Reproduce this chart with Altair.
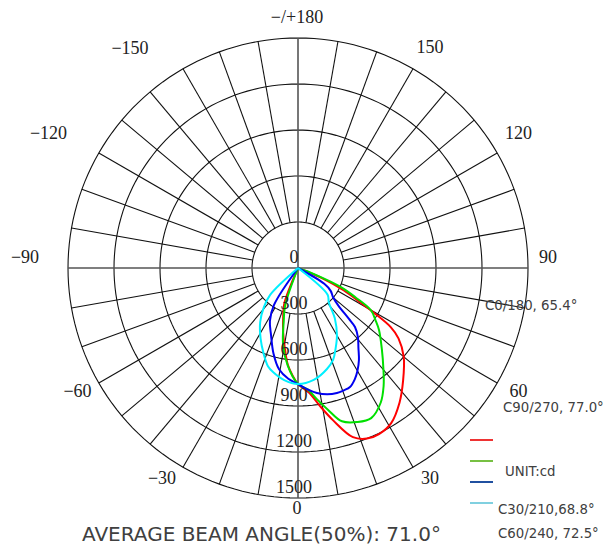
import altair as alt
import pandas as pd

# ---------------- data ----------------
series_names = ["C0/180", "C90/270", "C30/210", "C60/240"]
series_colors = ["#ff0000", "#00e000", "#0000f0", "#00f0ff"]

# angle in degrees (0 = straight down, + = C0/C90/... half plane, - = opposite half plane)
red_angles = [-25, -21, -17, -13, -10, -6, -3, 0, 5, 9, 13, 18, 22, 26, 31, 37, 43, 50, 55, 57.5, 59.5, 61, 64, 67, 70]
red_cd = [0, 250, 330, 430, 510, 635, 700, 757, 815, 910, 1020, 1160, 1200, 1205, 1180, 1100, 1005, 900, 800, 717, 574, 470, 333, 180, 0]

green_angles = [-23, -19, -15, -11, -6, 0, 4.7, 8, 12, 16, 21, 26, 31.6, 36, 40, 46, 52.6, 56, 60, 63, 66, 69, 71]
green_cd = [0, 255, 360, 510, 640, 757, 796, 860, 946, 1040, 1076, 1089, 1030, 950, 867, 760, 665, 610, 548, 420, 307, 120, 0]

blue_angles = [-36, -33, -28, -22, -16, -10.6, -5, 0, 4, 8.6, 13, 17.3, 20.5, 23.6, 27, 30, 33.5, 37, 41, 44, 45, 47, 50, 55, 59, 61]
blue_cd = [0, 287, 390, 470, 580, 672, 725, 757, 790, 824, 845, 854, 852, 847, 815, 775, 720, 655, 595, 535, 470, 360, 300, 260, 200, 0]

cyan_angles = [-49, -46, -41, -35, -28, -22, -17, -13.5, -7, 0, 8, 16, 21, 25, 30, 36, 42, 48, 51]
cyan_cd = [0, 254, 340, 430, 520, 600, 670, 698, 737, 757, 737, 685, 640, 580, 508, 410, 300, 260, 0]

ring_values = [300, 600, 900, 1200, 1500]
radial_label_values = [0, 300, 600, 900, 1200, 1500]
spoke_angles = [a for a in range(-170, 181, 10) if a % 90 != 0]
tick_angles = [0, 30, 60, 90, 120, 150, 180, -150, -120, -90, -60, -30]
tick_labels = ["0", "30", "60", "90", "120", "150", "\u2212/+180",
               "\u2212150", "\u2212120", "\u221290", "\u221260", "\u221230"]
legend_texts = ["C0/180, 65.4\u00b0", "C90/270, 77.0\u00b0", "UNIT:cd", "C30/210,68.8\u00b0", "C60/240, 72.5\u00b0"]
title_text = "AVERAGE BEAM ANGLE(50%): 71.0\u00b0"
legend_line_colors = ["#ee3333", "#77c043", "#2050a0", "#80d0e0"]

# ---------------- geometry / style ----------------
W, H = 597, 538
CX, CY = 290, 260          # centre of the polar grid in plot pixels
K = 230 / 1500             # pixels per cd
RMAX = 1500
xs = alt.Scale(domain=[-CX / K, (W - CX) / K], nice=False, zero=False)
ys = alt.Scale(domain=[-(H - CY) / K, CY / K], nice=False, zero=False)
SERIF = "Liberation Serif"
SANS = "DejaVu Sans"
TXT = "#404040"
# small pixel nudges of the angle labels (label placement style of the original)
label_nudge = {0: (-1, -9), 30: (7, -6), 60: (4, -1), 90: (0, -10), 120: (4, -9), 150: (7, -3),
               180: (-1, 0), -150: (-43, -2), -120: (-33, -9), -90: (-23, -10), -60: (-4, -1), -30: (-11, -6)}

rows = []
for name, angs, vals in [(series_names[0], red_angles, red_cd),
                         (series_names[1], green_angles, green_cd),
                         (series_names[2], blue_angles, blue_cd),
                         (series_names[3], cyan_angles, cyan_cd)]:
    for a, v in zip(angs, vals):
        rows.append({"series": name, "a": a, "r": v})
curves_df = pd.DataFrame(rows)

ring_rows = []
for v in ring_values:
    for a in range(0, 361, 2):
        ring_rows.append({"ring": v, "a": a, "r": v})
rings_df = pd.DataFrame(ring_rows)

polar_x = "datum.r*sin(datum.a*PI/180)"
polar_y = "-datum.r*cos(datum.a*PI/180)"

X = lambda f: alt.X(f, type="quantitative", scale=xs, axis=None)
Y = lambda f: alt.Y(f, type="quantitative", scale=ys, axis=None)

rings = alt.Chart(rings_df).transform_calculate(px=polar_x, py=polar_y).mark_line(
    color="#111111", strokeWidth=1.1
).encode(x=X("px"), y=Y("py"), detail="ring:N", order="a:Q")

spokes = alt.Chart(pd.DataFrame({"a": spoke_angles})).transform_calculate(
    x1="300*sin(datum.a*PI/180)", y1="-300*cos(datum.a*PI/180)",
    x2="1500*sin(datum.a*PI/180)", y2="-1500*cos(datum.a*PI/180)"
).mark_rule(color="#111111", strokeWidth=1.1).encode(
    x=X("x1"), y=Y("y1"), x2="x2:Q", y2="y2:Q"
)

axes = alt.Chart(pd.DataFrame({"a": [90, 0]})).transform_calculate(
    x1=f"-{RMAX}*sin(datum.a*PI/180)", y1=f"{RMAX}*cos(datum.a*PI/180)",
    x2=f"{RMAX}*sin(datum.a*PI/180)", y2=f"-{RMAX}*cos(datum.a*PI/180)"
).mark_rule(color="#555555", strokeWidth=1.6).encode(
    x=X("x1"), y=Y("y1"), x2="x2:Q", y2="y2:Q"
)

curves = alt.Chart(curves_df).transform_calculate(px=polar_x, py=polar_y).mark_line(
    strokeWidth=2, interpolate="catmull-rom"
).encode(
    x=X("px"), y=Y("py"),
    color=alt.Color("series:N", scale=alt.Scale(domain=series_names, range=series_colors), legend=None),
    order="a:Q",
)

radial_labels = alt.Chart(pd.DataFrame({"v": radial_label_values})).transform_calculate(
    px="0", py="-datum.v", t="toString(datum.v)"
).mark_text(font=SERIF, fontSize=18, color="#222222", align="center", baseline="alphabetic", dx=-4, dy=-5).encode(
    x=X("px"), y=Y("py"), text="t:N"
)

RL = 250 / K
tick_layers = []
for a, t in zip(tick_angles, tick_labels):
    ndx, ndy = label_nudge[a]
    tick_layers.append(
        alt.Chart(pd.DataFrame({"a": [a], "t": [t]})).transform_calculate(
            px=f"{RL}*sin(datum.a*PI/180)", py=f"-{RL}*cos(datum.a*PI/180)"
        ).mark_text(font=SERIF, fontSize=18, color="#222222", align="center", baseline="middle",
                    dx=ndx, dy=ndy).encode(x=X("px"), y=Y("py"), text="t:N")
    )

dummy = pd.DataFrame({"d": [0]})
legend_layers = []
for i, c in enumerate(legend_line_colors):
    legend_layers.append(
        alt.Chart(dummy).mark_rule(color=c, strokeWidth=2).encode(
            x=alt.value(462), x2=alt.value(485), y=alt.value(432 + 21 * i)
        )
    )

text_pos = [(477, 298), (495, 400), (497, 464), (490, 502), (490, 526)]
text_layers = []
for t, (tx, ty) in zip(legend_texts, text_pos):
    text_layers.append(
        alt.Chart(dummy).mark_text(text=t, font=SANS, fontSize=13.3, color=TXT,
                                   align="left", baseline="middle").encode(
            x=alt.value(tx), y=alt.value(ty)
        )
    )
text_layers.append(
    alt.Chart(dummy).mark_text(text=title_text, font=SANS, fontSize=20, color=TXT,
                               align="left", baseline="middle").encode(
        x=alt.value(74), y=alt.value(527)
    )
)

chart = alt.layer(
    rings, spokes, axes, curves, radial_labels, *tick_layers,
    *legend_layers, *text_layers
).properties(
    width=W, height=H, padding=0,
    autosize=alt.AutoSizeParams(type="none")
).configure_view(stroke=None)

chart.save("out.html", embed_options={"renderer": "svg", "actions": False})
